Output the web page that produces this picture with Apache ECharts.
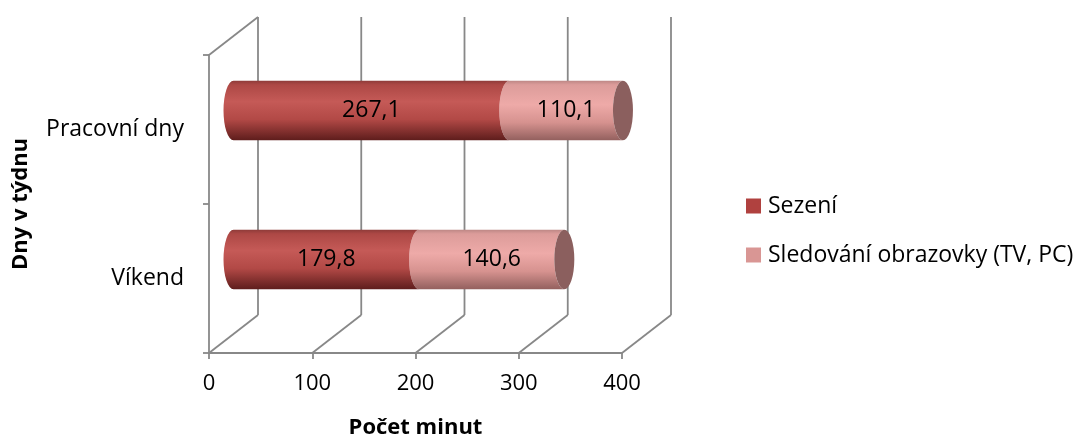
<!DOCTYPE html>
<html>
<head>
<meta charset="utf-8">
<script src="https://cdn.jsdelivr.net/npm/echarts@6/dist/echarts.min.js"></script>
<style>
  html, body { margin: 0; padding: 0; background: #fff; }
  #chart { width: 1082px; height: 437px; }
</style>
</head>
<body>
<div id="chart"></div>
<script>
// Categories (bottom to top on the vertical axis)
const categories = ['Víkend', 'Pracovní dny'];
// Minutes per day spent sitting
const sezeni = [179.8, 267.1];
// Minutes per day spent watching a screen
const sledovani = [140.6, 110.1];
// Value axis ticks
const xTicks = [0, 100, 200, 300, 400];

const seriesNames = ['Sezení', 'Sledování obrazovky (TV, PC)'];
const FONT = '"Open Sans", Lato, sans-serif';

// Oblique 3D depth offset of the back wall
const DX = 49, DY = -38;
const LINE = '#888888';
const LW = 1.8;

const fmt = v => v.toFixed(1).replace('.', ',');

const bodyFills = [
  new echarts.graphic.LinearGradient(0, 0, 0, 1, [
    { offset: 0, color: '#8e3b39' },
    { offset: 0.07, color: '#ad4845' },
    { offset: 0.35, color: '#c55a57' },
    { offset: 0.65, color: '#b24946' },
    { offset: 1, color: '#5e1d1c' }
  ]),
  new echarts.graphic.LinearGradient(0, 0, 0, 1, [
    { offset: 0, color: '#bd8785' },
    { offset: 0.07, color: '#dc9c9a' },
    { offset: 0.4, color: '#eeaaa8' },
    { offset: 0.7, color: '#d6928f' },
    { offset: 1, color: '#93605e' }
  ])
];
const capFill = '#8b5f5e';

// Cylinder segment: from start to start+value, drawn on the middle depth plane
function segmentRenderer(isLast) {
  return function (params, api) {
    const cat = api.value(0);
    const start = api.value(1);
    const end = start + api.value(2);
    const p0 = api.coord([start, cat]);
    const p1 = api.coord([end, cat]);
    const band = api.size([0, 1])[1];
    const r = band * 0.2;
    const rx = 10;
    const x0 = p0[0] + DX / 2, x1 = p1[0] + DX / 2, cy = p0[1] + DY / 2;
    const body = 'M' + x0 + ' ' + (cy - r) + ' L' + x1 + ' ' + (cy - r) +
      ' A' + rx + ' ' + r + ' 0 0 0 ' + x1 + ' ' + (cy + r) +
      ' L' + x0 + ' ' + (cy + r) +
      ' A' + rx + ' ' + r + ' 0 0 1 ' + x0 + ' ' + (cy - r) + ' Z';
    const children = [{
      type: 'path',
      shape: { pathData: body },
      style: { fill: bodyFills[params.seriesIndex - 1] }
    }];
    if (isLast) {
      const cap = 'M' + x1 + ' ' + (cy - r) +
        ' A' + rx + ' ' + r + ' 0 0 1 ' + x1 + ' ' + (cy + r) +
        ' A' + rx + ' ' + r + ' 0 0 1 ' + x1 + ' ' + (cy - r) + ' Z';
      children.push({ type: 'path', shape: { pathData: cap }, style: { fill: capFill } });
    }
    children.push({
      type: 'text',
      style: {
        text: fmt(api.value(2)),
        x: (x0 + x1) / 2, y: cy,
        align: 'center', verticalAlign: 'middle',
        font: '23px ' + FONT, fill: '#000'
      }
    });
    return { type: 'group', children: children };
  };
}

// Back wall verticals, floor diagonals and left wall top edge
function frameRenderer(params, api) {
  const cs = params.coordSys;
  const v = api.value(0);
  const px = api.coord([v, 0])[0];
  const bottom = cs.y + cs.height, top = cs.y;
  const lineStyle = { stroke: LINE, lineWidth: LW };
  const children = [
    { type: 'line', shape: { x1: px, y1: bottom, x2: px + DX, y2: bottom + DY }, style: lineStyle },
    { type: 'line', shape: { x1: px + DX, y1: bottom + DY, x2: px + DX, y2: top + DY }, style: lineStyle }
  ];
  if (v === xTicks[0]) {
    children.push({ type: 'line', shape: { x1: px, y1: top, x2: px + DX, y2: top + DY }, style: lineStyle });
  }
  return { type: 'group', children: children };
}

const chart = echarts.init(document.getElementById('chart'));
chart.setOption({
  animation: false,
  backgroundColor: '#fff',
  textStyle: { fontFamily: FONT },
  grid: { left: 209, right: 460, top: 55, bottom: 84, outerBoundsMode: 'none', containLabel: false },
  legend: {
    data: seriesNames,
    orient: 'vertical',
    left: 746, top: 194,
    padding: 0,
    itemWidth: 15, itemHeight: 15,
    itemGap: 25,
    icon: 'rect',
    textStyle: { fontSize: 23, lineHeight: 24, color: '#000', fontFamily: FONT, padding: [0, 0, 0, 2] }
  },
  xAxis: {
    type: 'value',
    min: 0, max: 400, interval: 100,
    name: 'Počet minut',
    nameLocation: 'middle',
    nameGap: 64,
    nameTextStyle: { fontSize: 22, fontWeight: 'bold', color: '#000' },
    axisLine: { show: true, lineStyle: { color: LINE, width: LW } },
    axisTick: { show: true, length: 6, lineStyle: { color: LINE, width: LW } },
    axisLabel: { fontSize: 22, color: '#000', margin: 20 },
    splitLine: { show: false }
  },
  yAxis: {
    type: 'category',
    data: categories,
    name: 'Dny v týdnu',
    nameLocation: 'middle',
    nameGap: 177,
    nameRotate: 90,
    nameTextStyle: { fontSize: 22, fontWeight: 'bold', color: '#000' },
    axisLine: { show: true, lineStyle: { color: LINE, width: LW } },
    axisTick: { show: true, length: 6, lineStyle: { color: LINE, width: LW } },
    axisLabel: { fontSize: 23, color: '#000', margin: 25 }
  },
  series: [
    {
      type: 'custom',
      name: 'frame',
      clip: false,
      z: 1,
      silent: true,
      renderItem: frameRenderer,
      encode: { x: 0 },
      data: xTicks.map(v => [v])
    },
    {
      type: 'custom',
      name: seriesNames[0],
      clip: false,
      z: 3,
      itemStyle: { color: '#b0413f' },
      renderItem: segmentRenderer(false),
      encode: { y: 0, x: [1, 2] },
      data: categories.map((c, i) => [i, 0, sezeni[i]])
    },
    {
      type: 'custom',
      name: seriesNames[1],
      clip: false,
      z: 2,
      itemStyle: { color: '#d99694' },
      renderItem: segmentRenderer(true),
      encode: { y: 0, x: [1, 2] },
      data: categories.map((c, i) => [i, sezeni[i], sledovani[i]])
    }
  ]
});
</script>
</body>
</html>
